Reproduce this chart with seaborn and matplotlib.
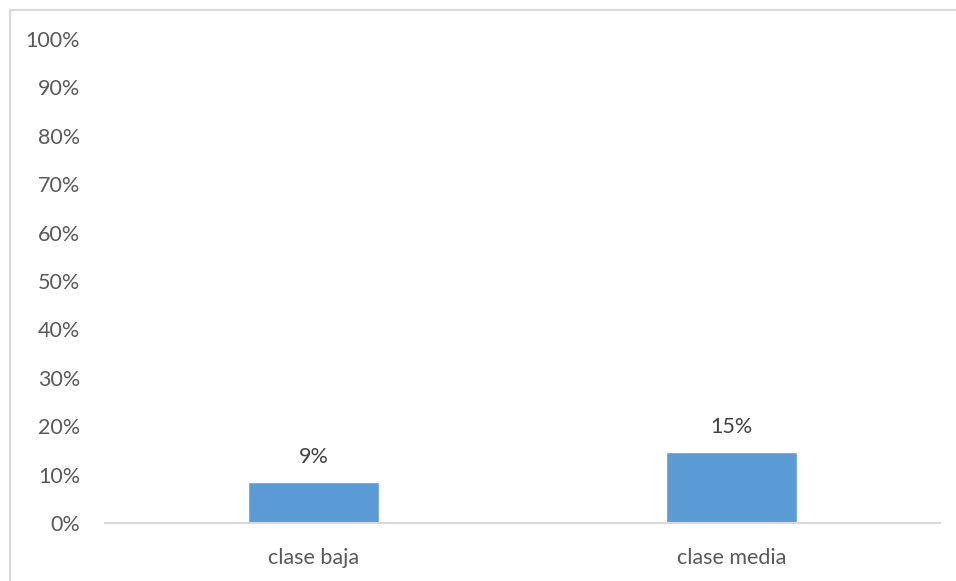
import matplotlib
matplotlib.use("Agg")
import matplotlib.pyplot as plt
from matplotlib.lines import Line2D
from matplotlib.ticker import PercentFormatter
import seaborn as sns
import pandas as pd

# datos
categorias = ["clase baja", "clase media"]
valores = [0.085, 0.146]
etiquetas = ["9%", "15%"]

sns.set_theme(style="white")
plt.rcParams["font.family"] = ["Lato", "DejaVu Sans"]

gris_texto = "#595959"
gris_linea = "#d9d9d9"

fig = plt.figure(figsize=(9.56, 5.81), dpi=100)
ax = fig.add_axes([105 / 956, 58 / 581, 835 / 956, 484 / 581])

df = pd.DataFrame({"categoria": categorias, "valor": valores})
sns.barplot(data=df, x="categoria", y="valor", color="#5B9BD5", saturation=1,
            width=0.314, ax=ax)

ax.set_ylim(0, 1)
ax.set_yticks([i / 10 for i in range(11)])
ax.yaxis.set_major_formatter(PercentFormatter(1.0, decimals=0))
ax.set_xlabel("")
ax.set_ylabel("")
ax.tick_params(axis="both", length=0, labelsize=15.5, colors=gris_texto)
ax.tick_params(axis="y", pad=18)
ax.tick_params(axis="x", pad=18)

for s in ["top", "right", "left"]:
    ax.spines[s].set_visible(False)
ax.spines["bottom"].set_color(gris_linea)
ax.spines["bottom"].set_linewidth(1.5)

for p, txt in zip(ax.patches, etiquetas):
    ax.annotate(txt, (p.get_x() + p.get_width() / 2, p.get_height()),
                xytext=(0, 18), textcoords="offset points",
                ha="center", va="center", fontsize=15.5, color="#404040")

# borde del area del grafico
fig.add_artist(Line2D([9.5 / 956, 1], [1 - 9.5 / 581, 1 - 9.5 / 581],
                      transform=fig.transFigure, color=gris_linea, lw=1.5))
fig.add_artist(Line2D([9.5 / 956, 9.5 / 956], [0, 1 - 9.5 / 581],
                      transform=fig.transFigure, color=gris_linea, lw=1.5))

fig.savefig("out.png", dpi=100)
